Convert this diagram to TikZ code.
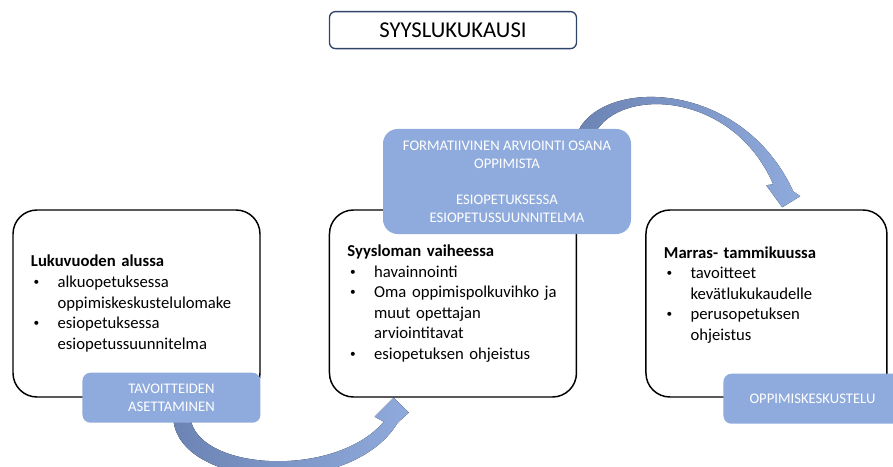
\documentclass[tikz,border=0pt]{standalone}
\usepackage{fontspec}
\setmainfont{Carlito}
\usepackage{tikz}
\usetikzlibrary{calc,positioning}
\definecolor{TabBlue}{RGB}{143,170,220}
\definecolor{BandDark}{RGB}{108,132,180}
\definecolor{TitleBlue}{RGB}{47,68,104}
\pgfdeclarelayer{background}
\pgfsetlayers{background,main}
\newcommand{\bitem}[1]{\makebox[20pt][l]{\hspace{2pt}\raisebox{1.3pt}{\fontsize{8.5}{8.5}\selectfont\textbullet}}#1}
\newcommand{\bcont}[1]{\hspace*{20pt}#1}

\begin{document}
\begin{tikzpicture}[
            x=0.75pt, y=-0.75pt,
            node distance = 0pt and 51pt,
            phasebox/.style = {draw, fill=white, line width=1.1pt,
                rounded corners=18pt,
                minimum width=185.25pt,
                minimum height=140.25pt,
                inner xsep=13.5pt,
                text width=158.25pt,
                align=left,
                font=\fontsize{12.5}{15.4}\selectfont,
            },
            tabbox/.style = {fill=TabBlue, rounded corners=6pt,
                text=white,
                font=\fontsize{11}{13.5}\selectfont,
                align=center,
                minimum width=133.5pt,
                minimum height=37.5pt,
            },
            titlebox/.style = {draw=TitleBlue, fill=white, line width=1pt,
                rounded corners=4.5pt,
                minimum width=185.25pt,
                minimum height=27.75pt,
                font=\fontsize{17}{20}\selectfont,
            },
            bandarrow/.style = {left color=BandDark, right color=TabBlue, draw=none},
        ]
    \useasboundingbox (0,0) rectangle (893,467);

    % the three phases
    \node[phasebox] (lbox) at (136.5,303.5) {\textbf{Lukuvuoden alussa}\\
        \bitem{alkuopetuksessa}\\\bcont{oppimiskeskustelulomake}\\
        \bitem{esiopetuksessa}\\\bcont{esiopetussuunnitelma}};
    \node[phasebox, right=of lbox] (mbox) {\textbf{Syysloman vaiheessa}\\
        \bitem{havainnointi}\\
        \bitem{Oma oppimispolkuvihko ja}\\\bcont{muut opettajan}\\\bcont{arviointitavat}\\
        \bitem{esiopetuksen ohjeistus}};
    \node[phasebox, right=of mbox, minimum width=180.75pt, text width=153.75pt] (rbox) {\textbf{Marras- tammikuussa}\\
        \bitem{tavoitteet}\\\bcont{kevätlukukaudelle}\\
        \bitem{perusopetuksen}\\\bcont{ohjeistus}\\\mbox{}};

    \node[titlebox, above=120pt of mbox] (title) {SYYSLUKUKAUSI};

    % tabs
    \node[tabbox, anchor=east] (ltab) at (lbox.south east) {TAVOITTEIDEN\\ASETTAMINEN};
    \node[tabbox, anchor=west] (rtab) at ($(rbox.south west)+(78,1)$) {OPPIMISKESKUSTELU};
    \node[tabbox, anchor=south west, minimum width=186pt, minimum height=78.75pt,
        rounded corners=11pt] (mtab) at ($(mbox.north west)+(54,25)$)
        {FORMATIIVINEN ARVIOINTI OSANA\\OPPIMISTA\\[13.5pt]ESIOPETUKSESSA\\ESIOPETUSSUUNNITELMA};

    % curved arrows
    \begin{pgfonlayer}{background}
        \coordinate (s1) at ($(ltab.south west)+(91,-6)$);
        \coordinate (t1) at ($(mbox.south west)+(65,0)$);
        \fill[bandarrow] (s1) .. controls ($(s1)+(2,72)$) and ($(s1)+(177,84)$) .. ($(t1)+(4,25)$)
            -- ($(t1)+(15,15)$) -- (t1) -- ($(t1)+(-19,19)$) -- ($(t1)+(-10,24)$)
            .. controls ($(s1)+(162,62)$) and ($(s1)+(23,54)$) .. ($(s1)+(17,0)$) -- cycle;
        \coordinate (s2) at ($(mtab.north west)+(193,8)$);
        \coordinate (t2) at ($(rbox.north west)+(137,-2)$);
        \fill[bandarrow] (s2) .. controls ($(s2)+(20,-60)$) and ($(s2)+(165,-60)$) .. ($(t2)+(11,-16)$)
            -- ($(t2)+(18,-11)$) -- (t2) -- ($(t2)+(-16,-22)$) -- ($(t2)+(-9,-23)$)
            .. controls ($(s2)+(155,-50)$) and ($(s2)+(35,-50)$) .. ($(s2)+(17,2)$) -- cycle;
    \end{pgfonlayer}
\end{tikzpicture}
\end{document}
